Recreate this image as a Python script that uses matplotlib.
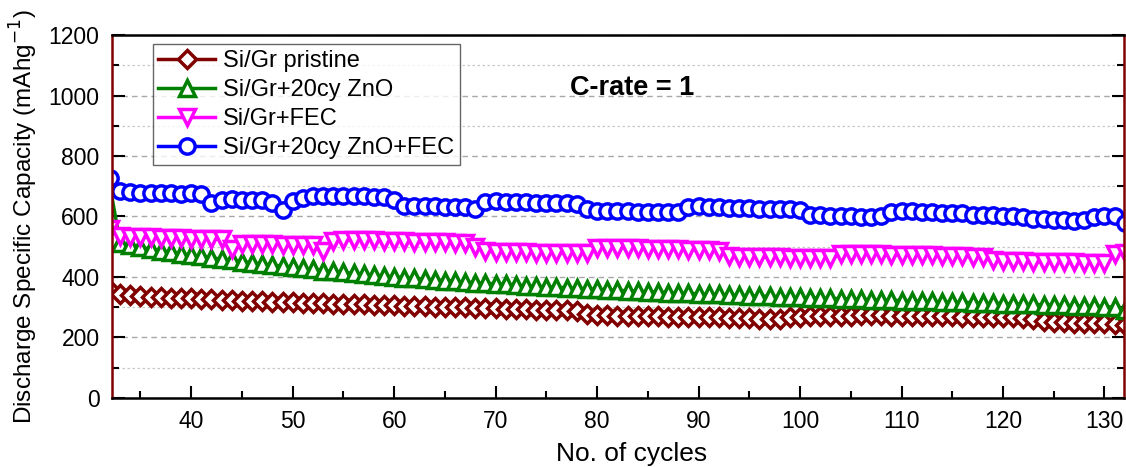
import numpy as np
import matplotlib.pyplot as plt
from matplotlib.ticker import MultipleLocator

plt.rcParams['font.family'] = ['Liberation Sans', 'DejaVu Sans']

cycles = np.arange(32, 133)

pristine = [358,
            345, 340, 337, 335, 333, 331, 330, 329, 327, 326, 325, 323, 322, 321, 320, 318, 317, 316,
            315, 314, 313, 312, 311, 310, 309, 308, 307, 306, 305, 304, 303, 302, 301, 300, 299, 298,
            297, 296, 295, 294, 293, 292, 291, 290, 289, 288, 276, 274, 273, 272, 272, 271, 270, 270,
            269, 268, 268, 267, 266, 266, 265, 264, 263, 262, 262, 261, 266, 268, 270, 271, 272, 272,
            272, 273, 273, 273, 272, 272, 272, 271, 271, 270, 270, 269, 269, 268, 268, 267, 266, 265,
            262, 255, 252, 250, 249, 248, 247, 246, 245, 240]

zno = [700,
       512, 505, 498, 492, 487, 482, 477, 472, 468, 463, 459, 455, 451, 447, 443, 439, 436, 432,
       428, 425, 421, 418, 415, 412, 409, 406, 403, 400, 398, 395, 393, 390, 388, 386, 383, 381,
       379, 377, 375, 373, 371, 369, 367, 366, 364, 362, 361, 359, 357, 356, 354, 353, 351, 350,
       348, 347, 346, 344, 343, 342, 340, 339, 338, 337, 336, 334, 333, 332, 331, 330, 329, 328,
       327, 326, 325, 324, 323, 322, 321, 320, 319, 318, 317, 316, 315, 314, 313, 312, 311, 310,
       309, 308, 307, 306, 305, 304, 303, 302, 300, 292]

fec = [560,
       535, 533, 532, 531, 530, 529, 528, 527, 526, 525, 524,
       492,
       508, 510, 509, 508, 507, 506, 505, 505,
       485,
       520, 522, 523, 522, 521, 520, 519, 518, 517, 516, 515, 514, 513, 512,
       500,
       485, 484, 483, 482, 481, 480, 480, 479, 479, 478, 478,
       495, 496, 497, 496, 495, 494, 493, 492, 491, 490, 489, 488, 487,
       468, 467, 466, 466, 465, 465, 464, 464, 463, 463, 462,
       475, 476, 476, 475, 475, 474, 474, 473, 472, 471, 470, 469, 468, 467, 466,
       455, 454, 453, 452, 451, 450, 449, 448, 448, 447, 447, 446,
       475, 480]

zno_fec = [728,
           684, 680, 678, 677, 676, 676, 675, 676, 674,
           645,
           655, 657, 656, 655, 654,
           645, 622, 652,
           662, 666, 668, 668, 667, 667, 666, 665, 664,
           655,
           636, 635, 634, 633, 632, 631, 630,
           624,
           648, 650, 649, 648, 647, 646, 645, 644, 643, 641,
           625,
           618, 618, 617, 617, 616, 616, 615, 614, 614,
           632, 634, 632, 630, 629, 628, 627, 626, 625, 624, 626,
           620,
           606, 604, 602, 600, 600, 599, 598, 600,
           615, 618, 617, 616, 614, 612, 611, 610,
           606, 605, 604, 602, 600, 598,
           592, 590, 588, 587, 586, 588,
           598, 602, 600,
           578]

series = [
    (pristine, 'Si/Gr pristine', '#800000', 'D', 9.5),
    (zno, 'Si/Gr+20cy ZnO', '#008000', '^', 11.5),
    (fec, 'Si/Gr+FEC', '#FF00FF', 'v', 11.5),
    (zno_fec, 'Si/Gr+20cy ZnO+FEC', '#0000FF', 'o', 11),
]

fig = plt.figure(figsize=(11.26, 4.67), dpi=100)
ax = fig.add_axes([0.0995, 0.148, 0.8985, 0.777])

for vals, name, col, mk, ms in series:
    ax.plot(cycles, vals, color=col, lw=2.5, marker=mk, ms=ms, mew=2.5,
            mfc='white', mec=col, label=name)

ax.set_xlim(32.2, 131.9)
ax.set_ylim(0, 1200)
ax.xaxis.set_major_locator(MultipleLocator(10))
ax.xaxis.set_minor_locator(MultipleLocator(5))
ax.yaxis.set_major_locator(MultipleLocator(200))
ax.yaxis.set_minor_locator(MultipleLocator(100))

# horizontal grid only: dashed at major, dotted at minor
ax.grid(axis='y', which='major', color='#A8A8A8', ls=(0, (4, 3)), lw=1.0)
ax.grid(axis='y', which='minor', color='#C8C8C8', ls=(0, (2, 2)), lw=0.9)
ax.set_axisbelow(True)

ax.tick_params(which='both', direction='in', width=1.5, top=False, right=True,
               labelsize=16.5, pad=9)
ax.tick_params(which='major', length=9)
ax.tick_params(which='minor', length=5)

for s in ['top', 'bottom']:
    ax.spines[s].set_color('black')
    ax.spines[s].set_linewidth(1.8)
for s in ['left', 'right']:
    ax.spines[s].set_color('#800000')
    ax.spines[s].set_linewidth(1.8)

ax.set_xlabel('No. of cycles', fontsize=19, labelpad=6)
ax.xaxis.set_label_coords(0.514, -0.122)
ax.set_ylabel('Discharge Specific Capacity (mAhg$^{-1}$)', fontsize=17.5, labelpad=6)

ax.text(83.5, 1025, 'C-rate = 1', fontsize=19.5, fontweight='bold',
        ha='center', va='center')

leg = ax.legend(loc='upper left', bbox_to_anchor=(0.04, 0.975), fontsize=17,
                frameon=True, fancybox=False, handlelength=2.4,
                borderpad=0.25, labelspacing=0.3, handletextpad=0.35,
                borderaxespad=0)
leg.get_frame().set_edgecolor('#404040')
leg.get_frame().set_linewidth(1.0)

fig.savefig('out.png', dpi=100)
